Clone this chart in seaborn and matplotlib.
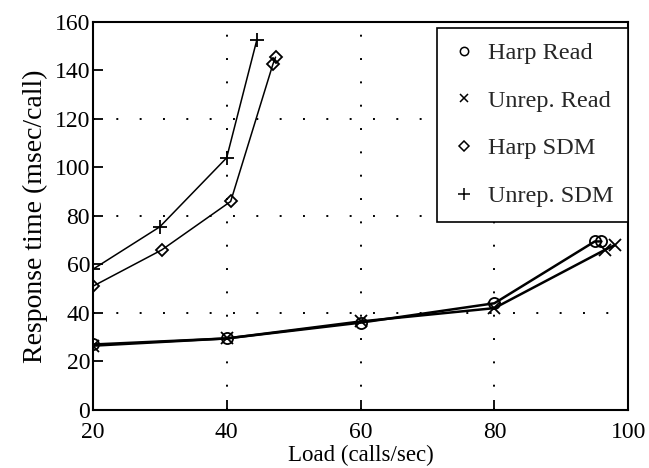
import matplotlib
matplotlib.use("Agg")
import matplotlib.pyplot as plt
from matplotlib.lines import Line2D
import seaborn as sns
import pandas as pd

# Data
harp_read_x = [20, 40, 60, 80, 95, 96]
harp_read_y = [27, 29.5, 36, 44, 69.5, 69.5]
unrep_read_x = [20, 40, 60, 80, 96.5, 98]
unrep_read_y = [26.5, 29.5, 36.5, 42, 66, 68]
harp_sdm_x = [20, 30.3, 40.6, 46.9, 47.3]
harp_sdm_y = [51, 66, 86, 142.5, 145.5]
unrep_sdm_x = [20, 30, 40, 44.5]
unrep_sdm_y = [58, 75.5, 104, 152.5]

series_names = ["Harp Read", "Unrep. Read", "Harp SDM", "Unrep. SDM"]
x_ticks = [20, 40, 60, 80, 100]
y_ticks = [0, 20, 40, 60, 80, 100, 120, 140, 160]
x_grid = [40, 60, 80]
y_grid = [40, 80, 120]

frames = []
for name, xs, ys in zip(series_names,
                        [harp_read_x, unrep_read_x, harp_sdm_x, unrep_sdm_x],
                        [harp_read_y, unrep_read_y, harp_sdm_y, unrep_sdm_y]):
    frames.append(pd.DataFrame({"Load": xs, "Resp": ys, "series": name,
                                "order": range(len(xs))}))
df = pd.concat(frames, ignore_index=True)

sns.set_theme(style="white")
plt.rcParams["font.family"] = ["Liberation Serif", "DejaVu Serif"]

fig = plt.figure(figsize=(6.49, 4.68), dpi=100)
ax = fig.add_axes([0.143, 0.124, 0.825, 0.829])

markers = {"Harp Read": "o", "Unrep. Read": "x", "Harp SDM": "D", "Unrep. SDM": "+"}
msize = {"Harp Read": 8, "Unrep. Read": 8, "Harp SDM": 6, "Unrep. SDM": 10}
lw = {"Harp Read": 1.8, "Unrep. Read": 1.8, "Harp SDM": 1.1, "Unrep. SDM": 1.1}

for name in series_names:
    sub = df[df["series"] == name]
    sns.lineplot(data=sub, x="Load", y="Resp", ax=ax, sort=False, estimator=None,
                 color="black", linewidth=lw[name], marker=markers[name],
                 markersize=msize[name], markerfacecolor="none",
                 markeredgecolor="black", markeredgewidth=1.3, legend=False)

for gx in x_grid:
    ax.axvline(gx, color="black", linestyle=(0, (1, 11)), linewidth=1.4, zorder=0)
for gy in y_grid:
    ax.axhline(gy, color="black", linestyle=(0, (1, 11)), linewidth=1.4, zorder=0)

ax.set_xlim(20, 100)
ax.set_ylim(0, 160)
ax.set_xticks(x_ticks)
ax.set_yticks(y_ticks)
ax.tick_params(axis="both", direction="in", length=7, width=1.3, colors="black",
               labelsize=17, left=True, bottom=True)
ax.tick_params(axis="y", pad=2)
ax.tick_params(axis="x", pad=9)
ax.set_xlabel("Load (calls/sec)", fontsize=16.5, labelpad=1, color="black")
ax.set_ylabel("Response time (msec/call)", fontsize=20, labelpad=5, color="black")

for sp in ax.spines.values():
    sp.set_color("black")
    sp.set_linewidth(1.5)

handles = [Line2D([], [], linestyle="none", marker=markers[n], markersize=6 if n != "Unrep. SDM" else 8,
                  markerfacecolor="none", markeredgecolor="black", markeredgewidth=1.1)
           for n in series_names]
handles[2].set_markersize(5)
leg = ax.legend(handles, series_names, loc="upper right", bbox_to_anchor=(1.0, 0.985),
                fontsize=17.5, frameon=True, fancybox=False, framealpha=1,
                edgecolor="black", labelspacing=1.05, handletextpad=0.5,
                handlelength=1.0, borderpad=0.6, borderaxespad=0)
leg.get_frame().set_linewidth(1.2)

fig.savefig("out.png", dpi=100)
